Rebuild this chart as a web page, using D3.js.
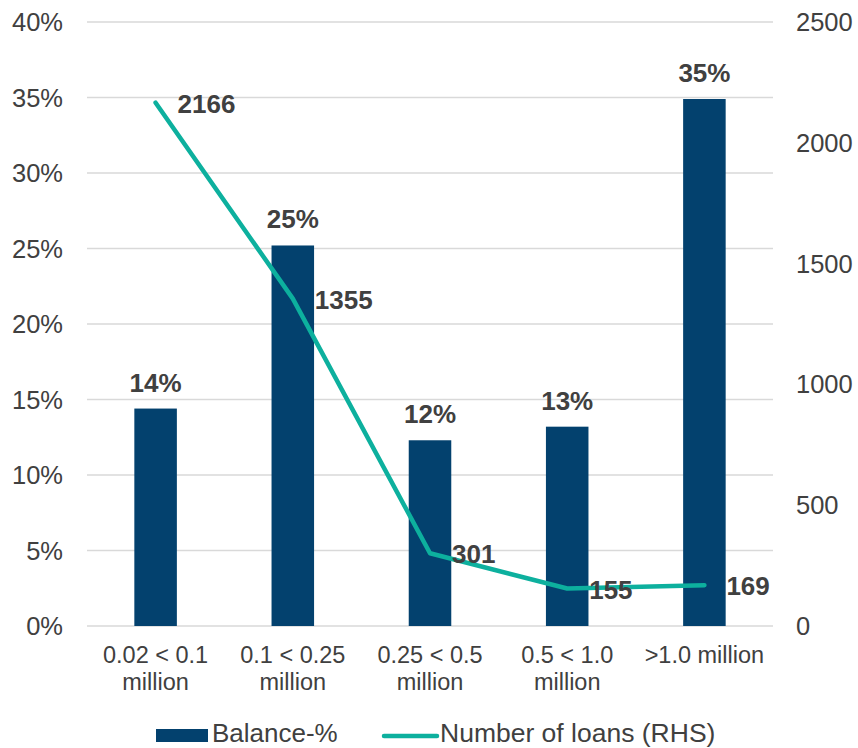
<!DOCTYPE html>
<html>
<head>
<meta charset="utf-8">
<script src="https://cdn.jsdelivr.net/npm/d3@7"></script>
<style>
  body { margin: 0; background: #fff; }
  svg text { font-family: "Liberation Sans", Arial, sans-serif; fill: #404040; }
</style>
</head>
<body>
<div id="chart"></div>
<script>
// data
const categories = [["0.02 < 0.1", "million"], ["0.1 < 0.25", "million"], ["0.25 < 0.5", "million"], ["0.5 < 1.0", "million"], [">1.0 million"]];
const balancePct = [14.4, 25.2, 12.3, 13.2, 34.9];
const balanceLabels = ["14%", "25%", "12%", "13%", "35%"];
const loans = [2166, 1355, 301, 155, 169];
const leftTicks = [0, 5, 10, 15, 20, 25, 30, 35, 40];
const rightTicks = [0, 500, 1000, 1500, 2000, 2500];

const width = 858, height = 748;
const margin = { left: 87, right: 85, top: 22, bottom: 122 };
const barColor = '#03416e';
const lineColor = '#0db09e';

const svg = d3.select('#chart').append('svg')
    .attr('width', width)
    .attr('height', height);

const x = d3.scaleBand()
    .domain(d3.range(categories.length))
    .range([margin.left, width - margin.right])
    .paddingInner(0.69)
    .paddingOuter(0.345);

const xc = i => x(i) + x.bandwidth() / 2;

const yL = d3.scaleLinear().domain([0, 40]).range([height - margin.bottom, margin.top]);
const yR = d3.scaleLinear().domain([0, 2500]).range([height - margin.bottom, margin.top]);

// gridlines
svg.append('g').selectAll('line')
    .data(leftTicks)
    .enter().append('line')
    .attr('x1', margin.left)
    .attr('x2', width - margin.right)
    .attr('y1', d => yL(d))
    .attr('y2', d => yL(d))
    .attr('stroke', '#d9d9d9')
    .attr('stroke-width', 1.3);

// left axis labels
svg.append('g').selectAll('text')
    .data(leftTicks)
    .enter().append('text')
    .attr('x', 63)
    .attr('y', d => yL(d) + 9)
    .attr('text-anchor', 'end')
    .style('font-size', '25.5px')
    .text(d => d + '%');

// right axis labels
svg.append('g').selectAll('text')
    .data(rightTicks)
    .enter().append('text')
    .attr('x', 796)
    .attr('y', d => yR(d) + 9)
    .attr('text-anchor', 'start')
    .style('font-size', '25.5px')
    .text(d => d);

// bars
svg.append('g').selectAll('rect')
    .data(balancePct)
    .enter().append('rect')
    .attr('x', (d, i) => x(i))
    .attr('y', d => yL(d))
    .attr('width', x.bandwidth())
    .attr('height', d => yL(0) - yL(d))
    .attr('fill', barColor);

// bar labels
svg.append('g').selectAll('text')
    .data(balancePct)
    .enter().append('text')
    .attr('x', (d, i) => xc(i))
    .attr('y', d => yL(d) - 17)
    .attr('text-anchor', 'middle')
    .style('font-size', '26px')
    .style('font-weight', 'bold')
    .text((d, i) => balanceLabels[i]);

// line
const line = d3.line()
    .x((d, i) => xc(i))
    .y(d => yR(d));

svg.append('path')
    .datum(loans)
    .attr('d', line)
    .attr('fill', 'none')
    .attr('stroke', lineColor)
    .attr('stroke-width', 4.5)
    .attr('stroke-linecap', 'round')
    .attr('stroke-linejoin', 'round');

// line labels
svg.append('g').selectAll('text')
    .data(loans)
    .enter().append('text')
    .attr('x', (d, i) => xc(i) + 22)
    .attr('y', d => yR(d) + 10)
    .attr('text-anchor', 'start')
    .style('font-size', '26px')
    .style('font-weight', 'bold')
    .text(d => d);

// category labels
const cat = svg.append('g').selectAll('text')
    .data(categories)
    .enter().append('text')
    .attr('x', (d, i) => xc(i))
    .attr('y', 663)
    .attr('text-anchor', 'middle')
    .style('font-size', '23.5px');

cat.selectAll('tspan')
    .data(d => d)
    .enter().append('tspan')
    .attr('x', function () { return d3.select(this.parentNode).attr('x'); })
    .attr('dy', (d, i) => i === 0 ? 0 : 27)
    .text(d => d);

// legend
const legend = svg.append('g');
legend.append('rect')
    .attr('x', 156).attr('y', 729)
    .attr('width', 52).attr('height', 13)
    .attr('fill', barColor);
legend.append('text')
    .attr('x', 212).attr('y', 742)
    .style('font-size', '26px')
    .text('Balance-%');
legend.append('line')
    .attr('x1', 384).attr('x2', 437)
    .attr('y1', 736).attr('y2', 736)
    .attr('stroke', lineColor)
    .attr('stroke-width', 4.5)
    .attr('stroke-linecap', 'round');
legend.append('text')
    .attr('x', 440).attr('y', 742)
    .style('font-size', '26.5px')
    .text('Number of loans (RHS)');
</script>
</body>
</html>
